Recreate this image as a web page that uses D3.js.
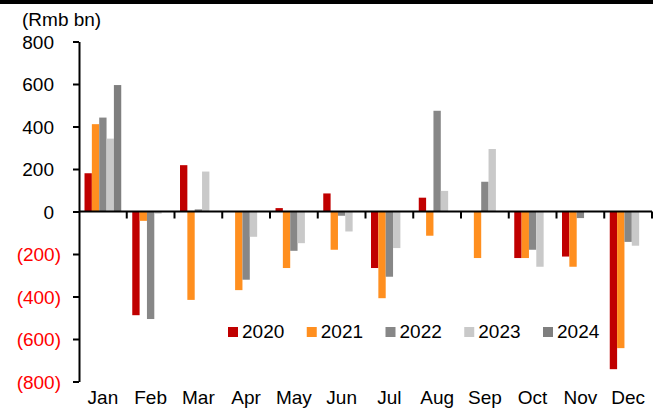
<!DOCTYPE html>
<html><head><meta charset="utf-8">
<script src="https://cdn.jsdelivr.net/npm/d3@7"></script>
<style>
html,body{margin:0;padding:0;background:#fff;}
svg{display:block;font-family:"Liberation Sans",Arial,sans-serif;}
</style></head>
<body>
<svg id="c" width="653" height="412"></svg>
<script>
const months = ["Jan","Feb","Mar","Apr","May","Jun","Jul","Aug","Sep","Oct","Nov","Dec"];
const years = ["2020","2021","2022","2023","2024"];
const v2020 = [180, -488, 218, 0, 16, 85, -266, 65, 0, -219, -212, -742];
const v2021 = [411, -44, -416, -370, -266, -180, -408, -114, -219, -219, -260, -643];
const v2022 = [442, -506, 10, -321, -185, -20, -307, 474, 140, -180, -31, -143];
const v2023 = [343, -10, 188, -119, -149, -94, -172, 97, 294, -260, 0, -161];
const v2024 = [595, 0, 0, 0, 0, 0, 0, 0, 0, 0, 0, 0];
const yTicks = [800, 600, 400, 200, 0, -200, -400, -600, -800];
const unitLabel = "(Rmb bn)";
const colors = ["#C00000", "#FF8F1F", "#878787", "#C9C9C9", "#7F7F7F"];

const seriesVals = [v2020, v2021, v2022, v2023, v2024];
const svg = d3.select("#c");

// top black band
svg.append("rect").attr("x",0).attr("y",0).attr("width",653).attr("height",4).attr("fill","#000");

const pL = 79, pR = 652, pT = 41.5, pB = 381.5;
const x0 = d3.scaleBand().domain(months).range([pL, pR]).padding(0);
const x1 = d3.scaleBand().domain(years).range([0, x0.bandwidth()]).paddingInner(0).paddingOuter(0.75);
const y = d3.scaleLinear().domain([-800, 800]).range([pB, pT]);

// bars
const rows = [];
months.forEach((m, i) => years.forEach((yr, j) => rows.push({m, yr, j, v: seriesVals[j][i]})));
svg.append("g").selectAll("rect").data(rows.filter(d => d.v !== 0)).join("rect")
  .attr("x", d => x0(d.m) + x1(d.yr))
  .attr("width", x1.bandwidth())
  .attr("y", d => y(Math.max(0, d.v)))
  .attr("height", d => Math.abs(y(d.v) - y(0)))
  .attr("fill", d => colors[d.j]);

// y axis
const yAxis = d3.axisLeft(y).tickValues(yTicks).tickSize(6).tickSizeOuter(0)
  .tickFormat(d => d < 0 ? "(" + Math.abs(d) + ")" : String(d));
const gy = svg.append("g").attr("transform", `translate(${pL},0)`).call(yAxis);
gy.select(".domain").attr("stroke", "#000").attr("stroke-width", 2);
gy.selectAll(".tick line").attr("stroke", "#000").attr("stroke-width", 2);
gy.selectAll(".tick text")
  .attr("font-size", 19)
  .attr("fill", d => d < 0 ? "#FF0000" : "#000")
  .attr("x", d => d < 0 ? -18 : -25)
  .attr("dy", "0.36em");

// x axis line at zero with band boundary ticks
const gx = svg.append("g").attr("transform", `translate(0,${y(0)})`);
gx.append("line").attr("x1", pL).attr("x2", pR).attr("stroke", "#000").attr("stroke-width", 2);
gx.selectAll("line.bt").data(months).join("line")
  .attr("class","bt")
  .attr("x1", d => x0(d) + x0.bandwidth())
  .attr("x2", d => x0(d) + x0.bandwidth())
  .attr("y1", 0).attr("y2", 7).attr("stroke", "#000").attr("stroke-width", 2);

// month labels
const xLab = d3.axisBottom(x0).tickSize(0).tickPadding(0);
const gl = svg.append("g").attr("transform", `translate(0,404)`).call(xLab);
gl.select(".domain").remove();
gl.selectAll(".tick text").attr("font-size", 19).attr("fill", "#000").attr("dy", 0);

// unit label
svg.append("text").attr("x", 22).attr("y", 26).attr("font-size", 19).attr("fill", "#000").text(unitLabel);

// legend
const lg = svg.append("g");
const lx = d3.scalePoint().domain(years).range([228, 543]);
const items = lg.selectAll("g").data(years).join("g").attr("transform", d => `translate(${lx(d)},0)`);
items.append("rect").attr("x", 0).attr("y", 327).attr("width", 10).attr("height", 10).attr("fill", (d, i) => colors[i]);
items.append("text").attr("x", 14).attr("y", 337.5).attr("font-size", 19).attr("fill", "#000").text(d => d);
</script>
</body></html>
